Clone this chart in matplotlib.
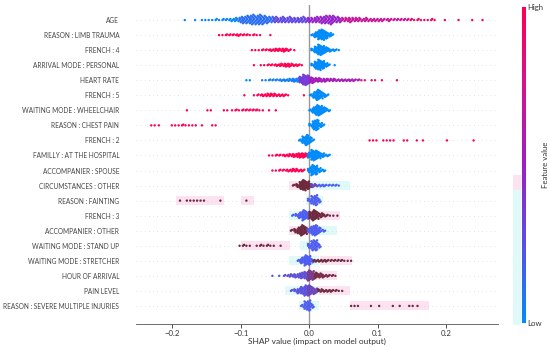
import matplotlib
matplotlib.use("Agg")
import matplotlib.pyplot as plt
import numpy as np
from matplotlib.colors import LinearSegmentedColormap
from matplotlib.patches import Rectangle

# feature names, top to bottom
FEATURES = [
    "AGE", "REASON : LIMB TRAUMA", "FRENCH : 4", "ARRIVAL MODE : PERSONAL",
    "HEART RATE", "FRENCH : 5", "WAITING MODE : WHEELCHAIR", "REASON : CHEST PAIN",
    "FRENCH : 2", "FAMILLY : AT THE HOSPITAL", "ACCOMPANIER : SPOUSE",
    "CIRCUMSTANCES : OTHER", "REASON : FAINTING", "FRENCH : 3", "ACCOMPANIER : OTHER",
    "WAITING MODE : STAND UP", "WAITING MODE : STRETCHER", "HOUR OF ARRIVAL",
    "PAIN LEVEL", "REASON : SEVERE MULTIPLE INJURIES",
]

# SHAP values read off the picture as histograms of BIN wide bins:
# (feature value 0..1, first bin centre, points per bin)
BIN = 0.005
AGE = [(0.02, -0.180, [1, 0, 0, 1, 0, 1, 1, 1, 1, 2, 1, 2, 2, 3, 3, 4]),
       (0.12, -0.100, [6, 7, 8, 9, 10, 9, 10, 8, 7, 6]),
       (0.28, -0.050, [6, 5, 6, 5, 6, 5, 5, 5, 6, 5]),
       (0.48, 0.000, [5, 5, 6, 6, 7, 8, 9, 8, 6, 5]),
       (0.70, 0.050, [4, 4, 5, 4, 4, 4, 3, 4, 3, 3, 3, 3, 2, 3, 2, 2, 2, 2, 2, 2]),
       (0.92, 0.150, [2, 1, 2, 1, 1, 1, 2, 1, 0, 0, 1, 0, 0, 0, 1, 0, 0, 0, 1, 0, 0, 1])]
LIMB_TRAUMA = [(1, -0.130, [1, 1, 2, 2, 2, 3, 2, 2, 2, 1, 2, 1, 1]), (1, -0.055, [1]),
               (0, 0.005, [3, 8, 14, 16, 11, 6, 2])]
FRENCH_4 = [(1, -0.082, [1, 1, 1, 2, 2, 3, 3, 4, 4, 5, 4, 2]), (1, -0.020, [1]),
            (0, 0.005, [4, 10, 16, 13, 8, 5, 3, 2, 1])]
ARRIVAL_PERSONAL = [(1, -0.079, [1, 0, 1]), (1, -0.064, [1, 2, 2, 3, 3, 4, 5, 5, 4, 3, 2, 1]),
                    (0, 0.005, [4, 11, 16, 12, 6, 2]), (0, 0.039, [1])]
HEART_RATE = [(0.0, -0.090, [1, 1]),
              (0.05, -0.067, [1, 1, 2, 2, 2, 3, 3, 3, 4, 5, 6]),
              (0.35, -0.012, [10, 16, 14]),
              (0.55, 0.003, [9, 7, 6, 5, 5, 4, 4, 4, 3, 3, 3, 3, 3, 2, 2]),
              (0.85, 0.078, [1, 1, 0, 1, 1, 0, 1]), (0.95, 0.130, [1])]
FRENCH_5 = [(1, -0.093, [1]), (1, -0.079, [1, 2, 3, 3, 4, 4, 4, 3, 3, 2, 1]), (1, -0.006, [1]),
            (0, 0.003, [3, 9, 14, 10, 5, 2])]
WHEELCHAIR = [(1, -0.177, [1]), (1, -0.147, [1, 1]), (1, -0.123, [1, 1]),
              (1, -0.111, [1, 2, 1, 2, 2, 2, 2, 2, 1, 1]), (1, -0.057, [1]), (1, -0.047, [1]),
              (0, 0.002, [3, 9, 15, 13, 8, 4, 1])]
CHEST_PAIN = [(1, -0.229, [1, 1]), (1, -0.218, [1]), (1, -0.199, [1, 1, 1, 2, 1, 1, 1, 1]),
              (1, -0.155, [1]), (1, -0.140, [1]), (1, -0.135, [1]),
              (0, 0.002, [4, 12, 14, 6, 2])]
FRENCH_2 = [(0, -0.013, [3, 10, 14, 8, 2]),
            (1, 0.090, [1, 1, 1, 0, 1, 1, 1, 1, 0, 0, 1, 1]), (1, 0.159, [1]), (1, 0.168, [1]),
            (1, 0.203, [1]), (1, 0.242, [1])]
FAMILY_HOSPITAL = [(1, -0.057, [1, 1, 2, 2, 3, 3, 4, 5, 6, 7, 7, 6]),
                   (0, 0.000, [8, 16, 14, 10, 6, 3, 2])]
ACC_SPOUSE = [(1, -0.052, [1, 1, 2, 2, 3, 3, 4, 4, 3, 2]), (0, 0.000, [6, 14, 12, 6, 3, 1])]
CIRC_OTHER = [(1, -0.022, [2, 5, 12, 16, 12, 5]), (0.3, 0.005, [5, 4]),
              (0, 0.015, [3, 3, 2, 2, 2, 2, 1])]
FAINTING = [(1, -0.187, [1]), (1, -0.177, [1, 1, 1, 1, 1, 1]), (1, -0.128, [1]), (1, -0.090, [1]),
            (0, 0.000, [4, 10, 12, 5])]
FRENCH_3 = [(0, -0.023, [2, 4, 8, 14, 10]), (1, 0.002, [10, 14, 10, 6, 4, 2, 1, 1]), (1, 0.043, [1])]
ACC_OTHER = [(1, -0.025, [2, 5, 9, 14, 10]), (0, 0.000, [6, 12, 14, 8, 3, 1])]
STAND_UP = [(1, -0.100, [1, 2, 1, 1, 0, 1, 2, 1, 2, 1, 1, 0, 1]), (0, 0.000, [5, 12, 12, 5])]
STRETCHER = [(0, -0.015, [3, 8, 14, 12, 5]), (1, 0.008, [3, 3, 3, 3, 2, 2, 2, 2, 2, 1, 1, 1])]
HOUR_ARRIVAL = [(0.05, -0.052, [1, 0, 1]), (0.15, -0.035, [2, 3, 4, 5, 6, 8, 10]),
                (0.5, 0.000, [14, 12]), (0.85, 0.010, [8, 6, 5, 3, 2, 2, 1])]
PAIN_LEVEL = [(0.1, -0.025, [2, 4, 7, 10, 14]), (0.3, 0.000, [14, 10, 7]),
              (0.9, 0.015, [4, 4, 3, 3, 2, 2, 1, 1])]
SEVERE_INJ = [(0, -0.010, [3, 10, 12, 5]), (1, 0.063, [1, 1, 1]), (1, 0.092, [1]), (1, 0.104, [1]),
              (1, 0.124, [1]), (1, 0.134, [1]), (1, 0.148, [1]), (1, 0.153, [1]), (1, 0.160, [1])]

ROWS = [AGE, LIMB_TRAUMA, FRENCH_4, ARRIVAL_PERSONAL, HEART_RATE, FRENCH_5, WHEELCHAIR,
        CHEST_PAIN, FRENCH_2, FAMILY_HOSPITAL, ACC_SPOUSE, CIRC_OTHER, FAINTING, FRENCH_3,
        ACC_OTHER, STAND_UP, STRETCHER, HOUR_ARRIVAL, PAIN_LEVEL, SEVERE_INJ]

# pale bands behind some of the lower rows: (row, x from, x to, tint)
BANDS = [(11, -0.030, -0.002, "pink"), (11, -0.002, 0.060, "cyan"),
         (12, -0.195, -0.125, "pink"), (12, -0.100, -0.080, "pink"), (12, -0.005, 0.020, "cyan"),
         (13, -0.030, 0.000, "cyan"), (13, 0.000, 0.045, "pink"),
         (14, -0.030, 0.000, "pink"), (14, 0.000, 0.040, "cyan"),
         (15, -0.100, -0.028, "pink"), (15, -0.013, 0.015, "cyan"),
         (16, -0.030, 0.015, "cyan"), (16, 0.016, 0.063, "pink"),
         (17, 0.000, 0.040, "pink"),
         (18, -0.035, 0.015, "cyan"), (18, 0.015, 0.060, "pink"),
         (19, -0.015, 0.015, "cyan"), (19, 0.060, 0.175, "pink")]
TINTS = {"pink": "#fde3f1", "cyan": "#e0fafa"}
FIRST_MUTED_ROW = 11

red_blue = LinearSegmentedColormap.from_list(
    "red_blue", ["#008bfb", "#5a4de6", "#9c1fc4", "#d2148f", "#ff0052"])
muted = LinearSegmentedColormap.from_list(
    "muted", ["#4f5cf0", "#6a46c8", "#7a3a8c", "#74304c", "#6e2a3c"])


def swarm(segments, y0):
    bins = {}
    for fv, x0, counts in segments:
        for i, n in enumerate(counts):
            key = round(x0 + i * BIN, 4)
            bins.setdefault(key, []).extend([fv] * n)
    maxn = max(len(v) for v in bins.values())
    d = min(0.07, 0.36 / max(maxn / 2.0, 1))
    xs, ys, cs = [], [], []
    for x, fvs in bins.items():
        for j, fv in enumerate(fvs):
            k = (j + 1) // 2 * (1 if j % 2 else -1)
            xs.append(x + ((j % 3) - 1) * BIN / 3)
            ys.append(y0 + k * d)
            cs.append(fv)
    return xs, ys, cs


plt.rcParams["font.family"] = ["Lato", "DejaVu Sans"]

fig = plt.figure(figsize=(5.5, 3.47), dpi=100)
ax = fig.add_axes([136 / 550, 1 - 324 / 347, 362 / 550, 319 / 347])
n = len(FEATURES)

for row, x0, x1, tint in BANDS:
    y = n - 1 - row
    ax.add_patch(Rectangle((x0, y - 0.3), x1 - x0, 0.6, color=TINTS[tint], lw=0, zorder=0))

for i in range(n):
    ax.axhline(n - 1 - i, color="#cccccc", lw=0.5, dashes=(1, 5), zorder=0.5)
ax.axvline(0, color="#999999", lw=1, zorder=0.8)

for i, segs in enumerate(ROWS):
    xs, ys, cs = swarm(segs, n - 1 - i)
    cmap = muted if i >= FIRST_MUTED_ROW else red_blue
    ax.scatter(xs, ys, c=cs, cmap=cmap, vmin=0, vmax=1, s=3, lw=0, zorder=2)

ax.set_xlim(-0.253, 0.276)
ax.set_ylim(-1.2, n)
ax.set_yticks(range(n))
ax.set_yticklabels(FEATURES[::-1], fontsize=4.7, color="#444444")
ax.tick_params(axis="y", length=0, pad=12)
ax.set_xticks([-0.2, -0.1, 0.0, 0.1, 0.2])
ax.set_xticklabels(["\u22120.2", "\u22120.1", "0.0", "0.1", "0.2"])
ax.tick_params(axis="x", labelsize=5.6, colors="#333333", length=3, width=0.6, pad=1)
ax.set_xlabel("SHAP value (impact on model output)", fontsize=6, color="#333333", labelpad=1)
for s in ["top", "right", "left"]:
    ax.spines[s].set_visible(False)
ax.spines["bottom"].set_color("#555555")
ax.spines["bottom"].set_linewidth(0.6)

# pale strip left of the colour bar
fig.patches.append(Rectangle((513 / 550, 22 / 347), 8 / 550, 135 / 347, color=TINTS["cyan"],
                             lw=0, transform=fig.transFigure, zorder=0))
fig.patches.append(Rectangle((513 / 550, 157 / 347), 8 / 550, 15 / 347, color=TINTS["pink"],
                             lw=0, transform=fig.transFigure, zorder=0))

cax = fig.add_axes([522 / 550, 1 - 323 / 347, 3.5 / 550, 316 / 347])
sm = plt.cm.ScalarMappable(cmap=red_blue, norm=plt.Normalize(0, 1))
cb = fig.colorbar(sm, cax=cax, ticks=[0, 1])
cb.set_ticklabels(["Low", "High"])
cb.outline.set_visible(False)
cax.tick_params(length=0, labelsize=5.6, pad=1.5, colors="#333333")
fig.text(545 / 550, 1 - 165 / 347, "Feature value", rotation=90, ha="center", va="center",
         fontsize=5.6, color="#333333")

fig.savefig("out.png", dpi=100)
